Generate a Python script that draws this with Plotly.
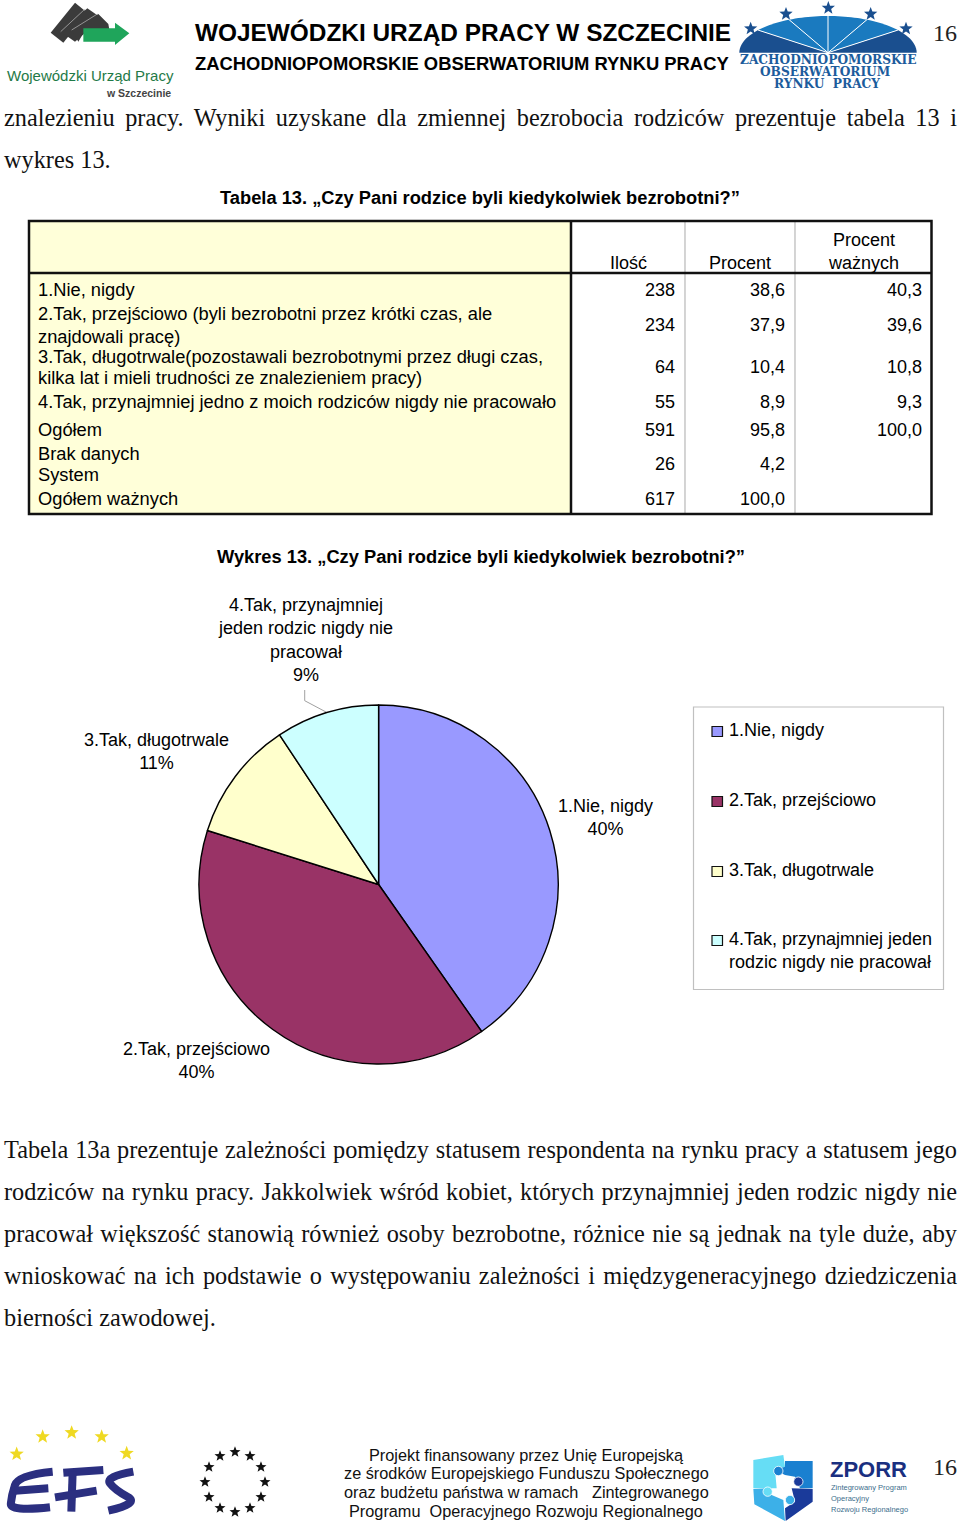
import json, math
import plotly.graph_objects as go

W, H = 960, 1529
SANS = "Liberation Sans"
SERIF = "Liberation Serif"

# ---------- data ----------
pie_labels = ["1.Nie, nigdy", "2.Tak, przejściowo", "3.Tak, długotrwale",
              "4.Tak, przynajmniej jeden rodzic nigdy nie pracował"]
pie_values = [238, 234, 64, 55]
pie_colors = ["#9999FF", "#993366", "#FFFFCC", "#CCFFFF"]
pie_text = ["1.Nie, nigdy<br>40%", "2.Tak, przejściowo<br>40%", "3.Tak, długotrwale<br>11%",
            "4.Tak, przynajmniej<br>jeden rodzic nigdy nie<br>pracował<br>9%"]

table_head = ["Ilość", "Procent", "Procent<br>ważnych"]
row_labels = [["1.Nie, nigdy"],
              ["2.Tak, przejściowo (byli bezrobotni przez krótki czas, ale", "znajdowali pracę)"],
              ["3.Tak, długotrwale(pozostawali bezrobotnymi przez długi czas,", "kilka lat i mieli trudności ze znalezieniem pracy)"],
              ["4.Tak, przynajmniej jedno z moich rodziców nigdy nie pracowało"],
              ["Ogółem"], ["Brak danych", "System"], ["Ogółem ważnych"]]
col_count = ["238", "234", "64", "55", "591", "26", "617"]
col_pct = ["38,6", "37,9", "10,4", "8,9", "95,8", "4,2", "100,0"]
col_valid = ["40,3", "39,6", "10,8", "9,3", "100,0", "", ""]

body_top = ["znalezieniu pracy. Wyniki uzyskane dla zmiennej bezrobocia rodziców prezentuje tabela 13 i",
            "wykres 13."]
body_bottom = ["Tabela 13a prezentuje zależności pomiędzy statusem respondenta na rynku pracy a statusem jego",
               "rodziców na rynku pracy. Jakkolwiek wśród kobiet, których przynajmniej jeden rodzic nigdy nie",
               "pracował większość stanowią również osoby bezrobotne, różnice nie są jednak na tyle duże, aby",
               "wnioskować na ich podstawie o występowaniu zależności i międzygeneracyjnego dziedziczenia",
               "bierności zawodowej."]
footer = ["Projekt finansowany przez Unię Europejską",
          "ze środków Europejskiego Funduszu Społecznego",
          "oraz budżetu państwa w ramach   Zintegrowanego",
          "Programu  Operacyjnego Rozwoju Regionalnego"]

# ---------- helpers (page pixels -> paper) ----------
px = lambda x: x / W
py = lambda y: 1 - y / H
shapes, notes = [], []


def text(x, y, s, size=18, font=SANS, color="#000", anchor="left", bold=False, valign="middle"):
    notes.append(dict(x=px(x), y=py(y), xref="paper", yref="paper", text=f"<b>{s}</b>" if bold else s,
                      showarrow=False, xanchor=anchor, yanchor=valign, align=anchor, borderpad=0, borderwidth=0,
                      font=dict(family=font, size=size, color=color)))


def rect(x0, y0, x1, y1, fill=None, line=None, lw=1):
    shapes.append(dict(type="rect", xref="paper", yref="paper", x0=px(x0), x1=px(x1), y0=py(y0), y1=py(y1),
                       fillcolor=fill or "rgba(0,0,0,0)", line=dict(color=line or "rgba(0,0,0,0)", width=lw if line else 0),
                       layer="below"))


def poly(pts, fill=None, line=None, lw=1, close=True):
    d = "M " + " L ".join(f"{px(x):.5f} {py(y):.5f}" for x, y in pts) + (" Z" if close else "")
    shapes.append(dict(type="path", xref="paper", yref="paper", path=d,
                       fillcolor=fill or "rgba(0,0,0,0)", line=dict(color=line or "rgba(0,0,0,0)", width=lw if line else 0),
                       layer="below"))


def curve(pts, line, lw):
    P = [(px(x), py(y)) for x, y in pts]
    d = f"M {P[0][0]:.5f} {P[0][1]:.5f}"
    for i in range(1, len(P) - 1):
        mx, my = (P[i][0] + P[i + 1][0]) / 2, (P[i][1] + P[i + 1][1]) / 2
        if i == len(P) - 2:
            mx, my = P[i + 1]
        d += f" Q {P[i][0]:.5f} {P[i][1]:.5f} {mx:.5f} {my:.5f}"
    if len(P) == 2:
        d += f" L {P[1][0]:.5f} {P[1][1]:.5f}"
    shapes.append(dict(type="path", xref="paper", yref="paper", path=d, line=dict(color=line, width=lw), layer="below"))


def star(cx, cy, r, fill):
    pts = []
    for i in range(10):
        a = -math.pi / 2 + i * math.pi / 5
        q = r if i % 2 == 0 else r * 0.42
        pts.append((cx + q * math.cos(a), cy + q * math.sin(a)))
    poly(pts, fill=fill)


def scaled(pts, ox, oy, k=3):
    return [(ox + x / k, oy + y / k) for x, y in pts]


def knob(cx, cy, r, fill):
    pts = [(745 + (cx + r * math.cos(i * math.pi / 8)) / 3, 1445 + (cy + r * math.sin(i * math.pi / 8)) / 3) for i in range(16)]
    poly(pts, fill=fill, line="#FFFFFF", lw=0.8)


# ---------- header logos ----------
DARK = "#3B3B3B"
poly(scaled([(225, 8), (262, 38), (190, 128), (152, 98)], 0, 0), fill=DARK)
poly(scaled([(262, 25), (305, 55), (225, 125), (182, 95)], 0, 0), fill=DARK)
poly(scaled([(295, 42), (325, 72), (330, 100), (250, 100), (235, 125), (215, 90)], 0, 0), fill=DARK)
poly(scaled([(255, 27), (182, 95)], 0, 0), line="#BBBBBB", lw=0.7, close=False)
poly(scaled([(292, 42), (215, 90)], 0, 0), line="#BBBBBB", lw=0.7, close=False)
poly(scaled([(250, 85), (345, 85), (345, 68), (388, 100), (345, 135), (345, 125), (250, 125)], 0, 0), fill="#1FA55B")
text(90, 75, "Wojewódzki Urząd Pracy", 15, SANS, "#1F7A48", "center")
text(171, 93, "w Szczecinie", 10.5, SANS, "#444444", "right", bold=True)

ax, ay, ra, rb = 828, 52.7, 88.7, 36.7


def sector(t0, t1, fill):
    pts = [(ax, ay)]
    for i in range(13):
        t = math.radians(t0 + (t1 - t0) * i / 12)
        pts.append((ax + ra * math.cos(t), ay - rb * math.sin(t)))
    poly(pts, fill=fill)


for t0, t1, c in [(0, 38, "#1A4F8F"), (38, 64, "#1A7ABF"), (64, 90, "#1A7ABF"),
                  (90, 116, "#1A7ABF"), (116, 142, "#1A7ABF"), (142, 180, "#1A4F8F")]:
    sector(t0, t1, c)
for t in (38, 64, 90, 116, 142):
    r = math.radians(t)
    poly([(ax, ay), (ax + ra * math.cos(r), ay - rb * math.sin(r))], line="#FFFFFF", lw=1, close=False)
for sx, sy in [(62, 86), (168, 42), (295, 24), (422, 42), (528, 86)]:
    star(730 + sx / 3, sy / 3, 7, "#1A4F8F")
LOGO = "DejaVu Serif"
text(828, 60, "ZACHODNIOPOMORSKIE", 12.2, LOGO, "#1C5C9C", "center", bold=True)
text(825, 72, "OBSERWATORIUM", 12.2, LOGO, "#1C5C9C", "center", bold=True)
text(827, 84, "RYNKU  PRACY", 12.2, LOGO, "#1C5C9C", "center", bold=True)

text(195, 33, "WOJEWÓDZKI URZĄD PRACY W SZCZECINIE", 24.4, SANS, bold=True)
text(195, 64, "ZACHODNIOPOMORSKIE OBSERWATORIUM RYNKU PRACY", 18.4, SANS, bold=True)
text(945, 33, "16", 24, SERIF, "#222222", "center")

# ---------- top body ----------
BODY = 24.3
text(4, 118, body_top[0], BODY, SERIF, "#111")
text(4, 160, body_top[1], BODY, SERIF, "#111")
text(480, 198, "Tabela 13. „Czy Pani rodzice byli kiedykolwiek bezrobotni?”", 18.3, SANS, anchor="center", bold=True)

# ---------- table ----------
TL, TR, TT, TB = 29, 931.5, 221, 514
rect(TL, TT, 571, TB, fill="#FFFFD9")
for vx in (685, 795):
    poly([(vx, TT), (vx, TB)], line="#A9A9A9", lw=1, close=False)
poly([(TL, 273), (TR, 273)], line="#111111", lw=2.5, close=False)
poly([(571, TT), (571, TB)], line="#111111", lw=2.5, close=False)
rect(TL, TT, TR, TB, line="#111111", lw=2.5)

text(628, 263, table_head[0], 18, anchor="center")
text(740, 263, table_head[1], 18, anchor="center")
text(863, 252, table_head[2], 18, anchor="center")

row_y = [[289.4], [313.8, 336.4], [356, 377.4], [401.4], [429.4], [453.4, 474.4], [498.6]]
val_y = [290, 325, 367, 402, 430, 464, 499]
for ys, labs in zip(row_y, row_labels):
    for y, lab in zip(ys, labs):
        text(38, y, lab, 18.3)
for y, a, b, c in zip(val_y, col_count, col_pct, col_valid):
    text(675, y, a, 18, anchor="right")
    text(785, y, b, 18, anchor="right")
    if c:
        text(922, y, c, 18, anchor="right")

# ---------- chart ----------
text(481, 556.4, "Wykres 13. „Czy Pani rodzice byli kiedykolwiek bezrobotni?”", 18.3, SANS, anchor="center", bold=True)
text(605, 817.5, pie_text[0], 18, anchor="center")
text(196, 1060, pie_text[1], 18, anchor="center")
text(156, 751.5, pie_text[2], 18, anchor="center")
text(305, 639.5, pie_text[3], 18, anchor="center")
poly([(304.7, 690), (304.7, 700.7), (326, 712)], line="#A0A0A0", lw=1, close=False)

rect(693.5, 707, 943.5, 989.5, line="#C0C0C0", lw=1.2)
for (y0, y1), c, y, t in zip([(726.5, 736.5), (796.5, 806.5), (866.5, 876.5), (935.5, 945.5)], pie_colors,
                             [730, 800, 870, 950], ["1.Nie, nigdy", "2.Tak, przejściowo", "3.Tak, długotrwale",
                                                    "4.Tak, przynajmniej jeden<br>rodzic nigdy nie pracował"]):
    rect(712, y0, 722.5, y1, fill=c, line="#111111", lw=1.2)
    text(729, y, t, 18)

cx, cy, r = 378.6, 884.5, 179.5
pie = go.Pie(labels=pie_labels, values=pie_values, sort=False, direction="clockwise", rotation=0,
             textinfo="none", hoverinfo="label+percent",
             marker=dict(colors=pie_colors, line=dict(color="#000000", width=1.4)),
             domain=dict(x=[px(cx - r), px(cx + r)], y=[py(cy + r), py(cy - r)]), showlegend=False)

# ---------- bottom body ----------
for y, line in zip([1149, 1191, 1233, 1275, 1317], body_bottom):
    text(4, y, line, BODY, SERIF, "#111")

# ---------- footer ----------
EFS = "#2B2F80"
for sx, sy in [(50, 102), (128, 50), (215, 38), (305, 50), (380, 100)]:
    star(sx / 3, 1420 + sy / 3, 7.5, "#EFD922")
for stroke in [
    [(158, 155), (55, 165), (35, 225), (30, 275), (150, 262)],
    [(45, 212), (145, 205)],
    [(190, 158), (310, 150)],
    [(218, 155), (214, 275)],
    [(165, 232), (290, 212)],
    [(400, 155), (315, 170), (345, 210), (420, 250), (325, 272)],
]:
    curve(scaled(stroke, 0, 1420), EFS, 8)
for i in range(12):
    a = math.radians(30 * i)
    star(235 + 30 * math.cos(a), 1482 + 30 * math.sin(a), 5.8, "#111111")
for y, line in zip([1454.5, 1473, 1491.5, 1510.5], footer):
    text(526, y, line, 16.3, SANS, "#111", "center")

for pts, c in [
    ([(25, 45), (115, 30), (120, 65), (90, 75), (95, 130), (25, 130)], "#66DDF5"),
    ([(120, 48), (203, 48), (203, 130), (165, 130), (150, 95), (120, 90), (90, 75), (120, 65)], "#1A80D0"),
    ([(25, 132), (60, 130), (80, 150), (115, 165), (120, 228), (28, 178)], "#3CB0E8"),
    ([(140, 130), (203, 132), (203, 170), (122, 228), (120, 190), (150, 170)], "#1A3A9A"),
]:
    poly(scaled(pts, 745, 1445), fill=c)
knob(100, 78, 14, "#1A80D0")
knob(160, 110, 14, "#1A3A9A")
knob(68, 140, 14, "#66DDF5")
knob(135, 165, 14, "#3CB0E8")
text(830, 1469, "ZPORR", 22, SANS, "#1A2F80", bold=True)
text(831, 1487, "Zintegrowany Program", 7.5, SANS, "#3C6E8C")
text(831, 1498, "Operacyjny", 7.5, SANS, "#3C6E8C")
text(831, 1509, "Rozwoju Regionalnego", 7.5, SANS, "#3C6E8C")
text(945, 1467, "16", 24, SERIF, "#222222", "center")

# ---------- figure ----------
fig = go.Figure(pie)
fig.update_layout(width=W, height=H, margin=dict(l=0, r=0, t=0, b=0, pad=0), autosize=False,
                  paper_bgcolor="#FFFFFF", plot_bgcolor="#FFFFFF", shapes=shapes, annotations=notes)

justify = {body_top[0]: 953}
justify.update({l: 953 for l in body_bottom[:4]})
post = """
document.body.style.margin='0';document.documentElement.style.overflow='hidden';
var J=%s;
document.querySelectorAll('text.annotation-text').forEach(function(t){
  var w=J[t.textContent]; if(!w) return;
  var n=t.textContent.split(' ').length-1;
  t.style.wordSpacing=((w-t.getComputedTextLength())/n)+'px';
});
""" % json.dumps(justify, ensure_ascii=False)
fig.write_html("out.html", config=dict(displayModeBar=False), post_script=post)
